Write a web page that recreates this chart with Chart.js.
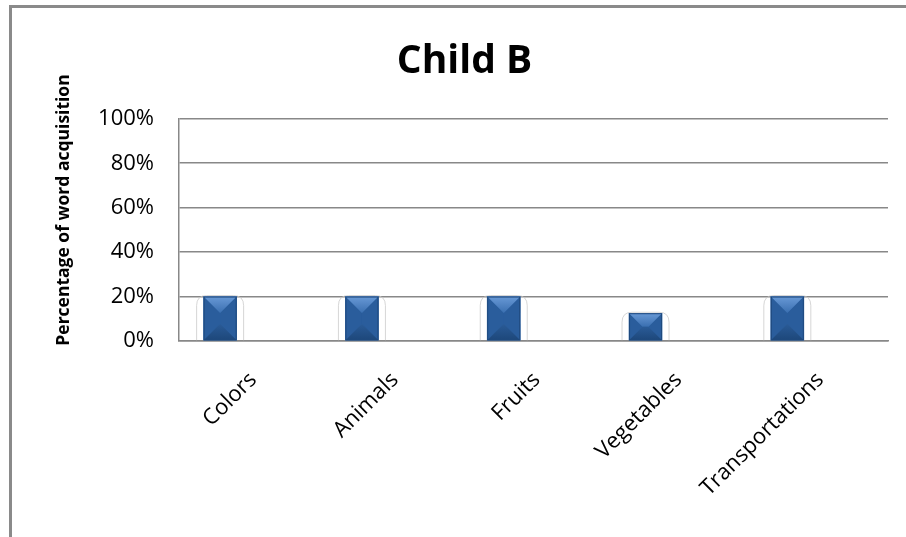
<!DOCTYPE html>
<html>
<head>
<meta charset="utf-8">
<script src="https://cdn.jsdelivr.net/npm/chart.js@4"></script>
<style>
  html, body { margin: 0; padding: 0; background: #fff; overflow: hidden; }
  #frame { position: absolute; left: 9px; top: 5px; width: 1000px; height: 1000px;
           border: 3px solid #8a8a8a; box-sizing: border-box; }
  #wrap { position: absolute; left: 0; top: 0; width: 906px; height: 537px; }
</style>
</head>
<body>
<div id="frame"></div>
<div id="wrap"><canvas id="chart" width="906" height="537"></canvas></div>
<script>
// data
const categories = ['Colors', 'Animals', 'Fruits', 'Vegetables', 'Transportations'];
const acquisition = [0.20, 0.20, 0.20, 0.125, 0.20];
const yTicks = [0, 0.2, 0.4, 0.6, 0.8, 1.0];

const FONT = '"Open Sans", "Noto Sans", sans-serif';

function face(ctx, pts, fill) {
    ctx.fillStyle = fill;
    ctx.beginPath();
    ctx.moveTo(pts[0][0], pts[0][1]);
    pts.slice(1).forEach(p => ctx.lineTo(p[0], p[1]));
    ctx.closePath();
    ctx.fill();
}

// bevelled bars + faint glow outline, drawn on the bar elements
const bevelBars = {
    id: 'bevelBars',
    beforeDatasetsDraw(chart) {
        const ctx = chart.ctx;
        chart.getDatasetMeta(0).data.forEach(bar => {
            const w = bar.width, x0 = bar.x - w / 2 - 7, x1 = bar.x + w / 2 + 7;
            const y0 = bar.y - 1, y1 = bar.base, r = 10;
            ctx.save();
            ctx.strokeStyle = 'rgba(200,200,200,0.75)';
            ctx.lineWidth = 1;
            ctx.beginPath();
            ctx.moveTo(x0, y1);
            ctx.lineTo(x0, y0 + r);
            ctx.quadraticCurveTo(x0, y0, x0 + r, y0);
            ctx.lineTo(x1 - r, y0);
            ctx.quadraticCurveTo(x1, y0, x1, y0 + r);
            ctx.lineTo(x1, y1);
            ctx.stroke();
            ctx.restore();
        });
    },
    afterDatasetsDraw(chart) {
        const ctx = chart.ctx;
        chart.getDatasetMeta(0).data.forEach(bar => {
            const l = bar.x - bar.width / 2, r = bar.x + bar.width / 2;
            const t = bar.y, b = bar.base;
            const d = Math.min(bar.width / 2, (b - t) / 2);
            ctx.save();
            // sides
            face(ctx, [[l, t], [l + d, t + d], [l + d, b - d], [l, b]], '#2a5d9c');
            face(ctx, [[r, t], [r - d, t + d], [r - d, b - d], [r, b]], '#2a5d9c');
            // top face
            let g = ctx.createLinearGradient(0, t, 0, t + d);
            g.addColorStop(0, '#6899d6');
            g.addColorStop(1, '#3a6fb0');
            face(ctx, [[l, t], [r, t], [r - d, t + d], [l + d, t + d]], g);
            // bottom face
            g = ctx.createLinearGradient(0, b - d, 0, b);
            g.addColorStop(0, '#2a5b97');
            g.addColorStop(1, '#1d477a');
            face(ctx, [[l, b], [r, b], [r - d, b - d], [l + d, b - d]], g);
            ctx.strokeStyle = '#1f4a7e';
            ctx.lineWidth = 1;
            ctx.strokeRect(l + 0.5, t + 0.5, r - l - 1, b - t - 1);
            ctx.restore();
        });
    }
};

// y axis title, placed a bit above the plot centre as in the original
const yTitle = {
    id: 'yTitle',
    afterDraw(chart) {
        const ctx = chart.ctx;
        ctx.save();
        ctx.translate(64, 210);
        ctx.rotate(-Math.PI / 2);
        ctx.font = 'bold 17.5px ' + FONT;
        ctx.fillStyle = '#000';
        ctx.textAlign = 'center';
        ctx.textBaseline = 'middle';
        ctx.fillText('Percentage of word acquisition', 0, 0);
        ctx.restore();
    }
};

new Chart(document.getElementById('chart').getContext('2d'), {
    type: 'bar',
    data: {
        datasets: [{
            data: acquisition.map((v, i) => ({ x: i, y: v })),
            backgroundColor: '#2c61a2',
            borderWidth: 0,
            barThickness: 33
        }]
    },
    options: {
        responsive: false,
        animation: false,
        layout: { padding: { left: 41, right: 18, top: 0, bottom: 0 } },
        plugins: {
            legend: { display: false },
            tooltip: { enabled: false },
            title: {
                display: true,
                text: 'Child B',
                color: '#000',
                font: { family: FONT, size: 39, weight: 'bold' },
                padding: { top: 38, bottom: 34 }
            }
        },
        scales: {
            x: {
                type: 'linear',
                min: -0.29,
                max: 4.71,
                offset: false,
                afterBuildTicks: s => { s.ticks = categories.map((c, i) => ({ value: i })); },
                afterFit: s => { s.height = 537 - 341; },
                grid: { display: false, drawTicks: false },
                border: { display: true, color: '#888', width: 1.5 },
                ticks: {
                    callback: v => categories[v],
                    minRotation: 45,
                    maxRotation: 45,
                    autoSkip: false,
                    labelOffset: 33,
                    padding: 26,
                    color: '#000',
                    font: { family: FONT, size: 22 }
                }
            },
            y: {
                min: 0,
                max: 1,
                afterBuildTicks: s => { s.ticks = yTicks.map(v => ({ value: v })); },
                afterFit: s => { s.width = 179 - 41; },
                grid: { color: '#888', lineWidth: 1.5, drawTicks: false },
                border: { display: true, color: '#888', width: 1.5 },
                ticks: {
                    callback: v => Math.round(v * 100) + '%',
                    padding: 25,
                    color: '#000',
                    font: { family: FONT, size: 22 }
                }
            }
        }
    },
    plugins: [bevelBars, yTitle]
});
</script>
</body>
</html>
